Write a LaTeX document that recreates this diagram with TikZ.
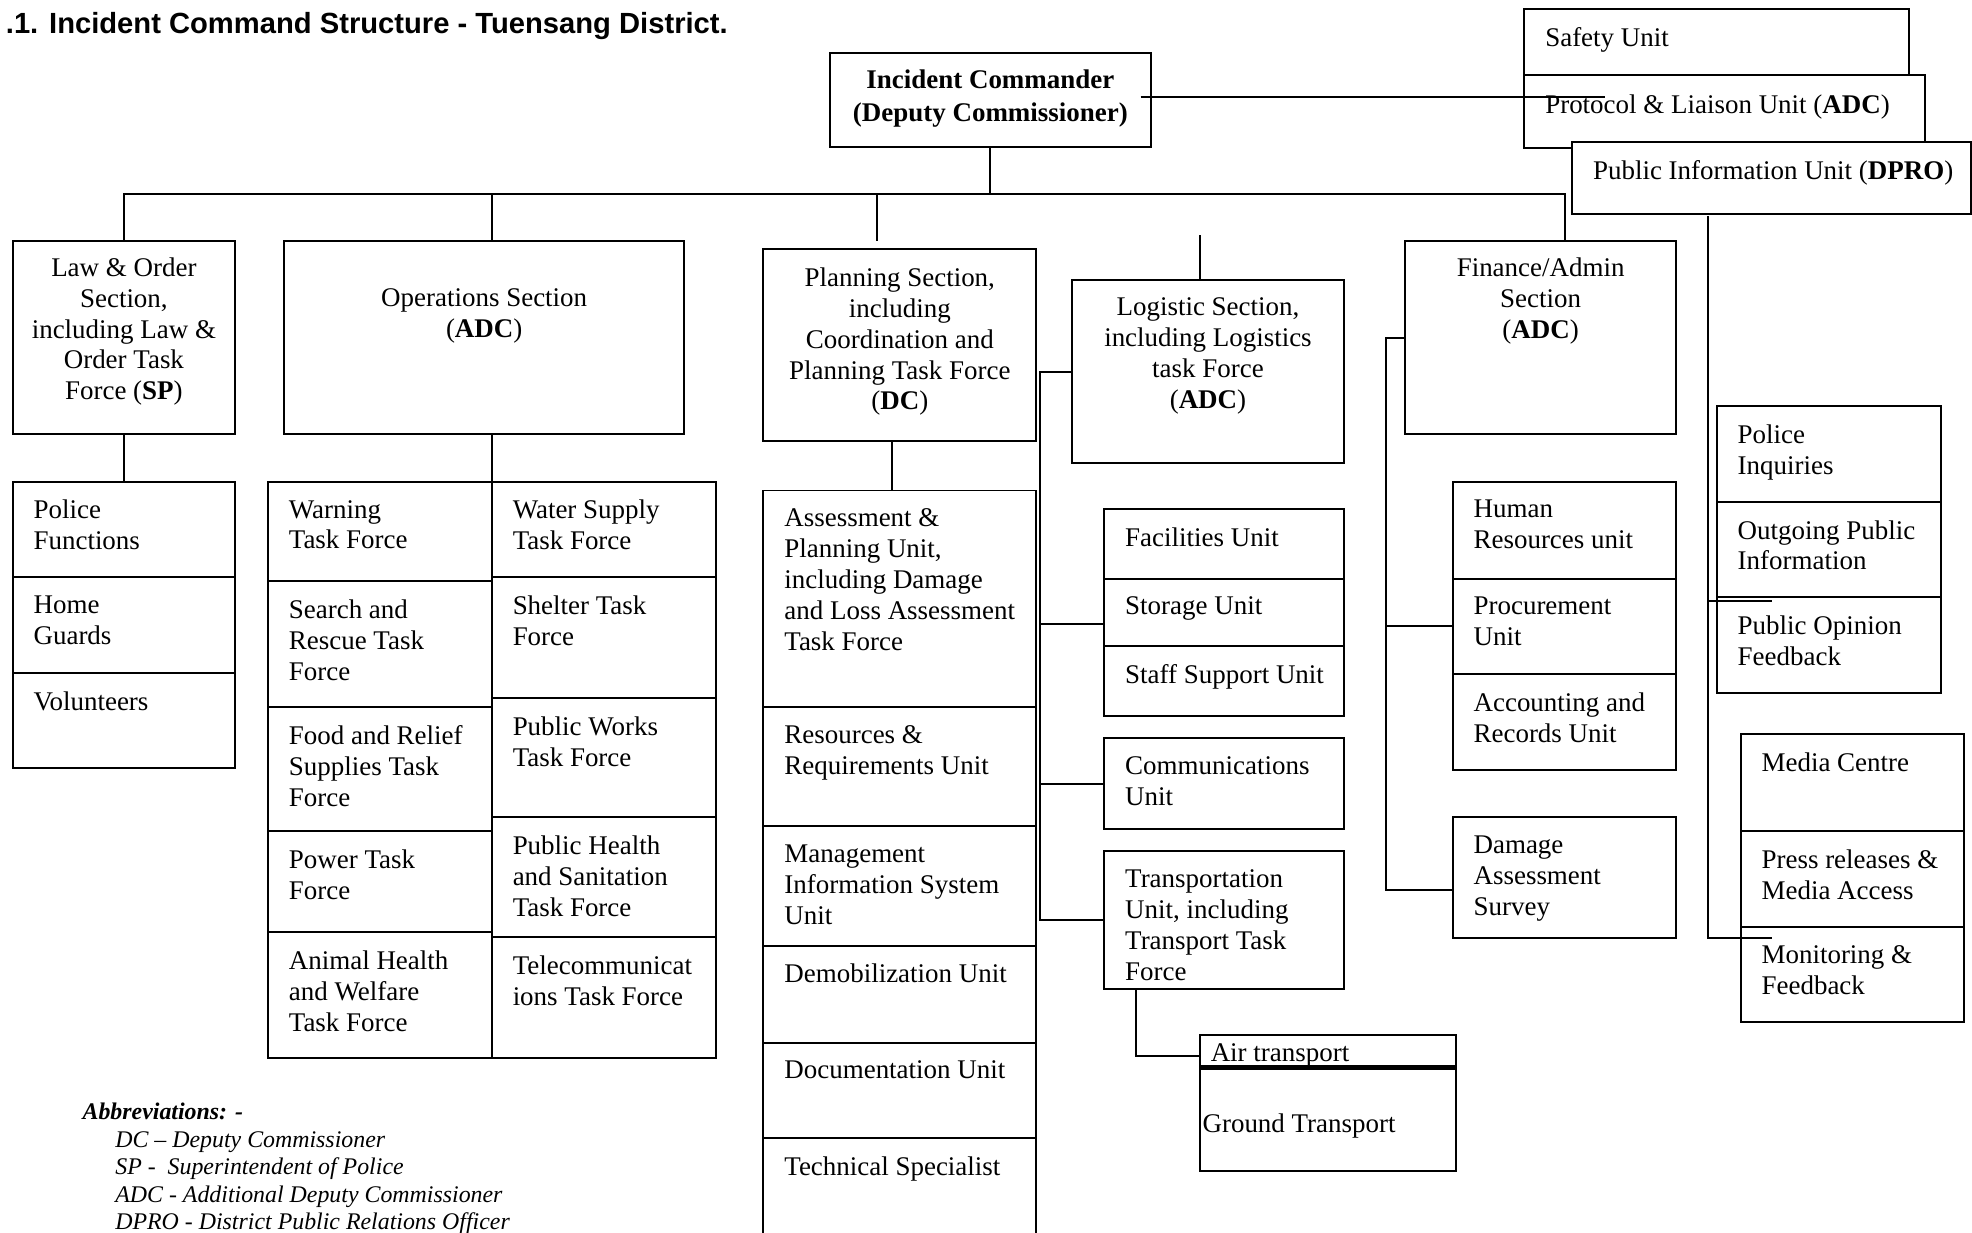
\documentclass[tikz,border=0pt]{standalone}
\usepackage{fontspec}
\setmainfont{Liberation Serif}
\newfontfamily\headfont{Liberation Sans}
\usetikzlibrary{fit}

\tikzset{
  box/.style={draw, fill=white, line width=0.45pt, inner sep=0pt, outer sep=0pt},
  lbl/.style={anchor=north west, inner sep=0pt, align=left, font=\fontsize{6.1}{7}\selectfont},
  clbl/.style={anchor=north, inner sep=0pt, align=center, font=\fontsize{6.1}{7}\selectfont},
  link/.style={line width=0.45pt},
}

% unit box: [text drop] name, corner, corner, text
\newcommand{\ubox}[5][14]{%
  \node[box, fit={#3 #4}] (#2) {};
  \node[lbl] (#2-t) at ([shift={(16,#1)}]#2.north west) {#5};}
% section box: name, corner, corner, text drop, text
\newcommand{\secbox}[5]{%
  \node[box, fit={#2 #3}] (#1) {};
  \node[clbl] (#1-t) at ([shift={(0,#4)}]#1.north) {#5};}

\begin{document}
\begin{tikzpicture}[x=0.1mm, y=-0.1mm]
\useasboundingbox (0,0) rectangle (1568,980);

\node[anchor=base west, inner sep=0pt, font=\headfont\bfseries\fontsize{6.6}{8}\selectfont] (title) at (4,26.5) {.1. Incident Command Structure - Tuensang District.};

% command staff
\secbox{ic}{(660,42)}{(915,117)}{13}{\textbf{Incident Commander}\\[0.4pt]\textbf{(Deputy Commissioner)}}
\ubox[14]{safety}{(1212,7)}{(1518,60)}{Safety Unit}
\ubox[15]{protocol}{(1212,60)}{(1531,118)}{Protocol \& Liaison Unit (\textbf{ADC})}
\ubox[14]{pubinfo}{(1250,113)}{(1567,170)}{Public Information Unit (\textbf{DPRO})}

% sections
\secbox{law}{(10,192)}{(187,345)}{12}{Law \& Order\\Section,\\including Law \&\\Order Task\\Force (\textbf{SP})}
\secbox{ops}{(226,192)}{(544,345)}{37}{Operations Section\\(\textbf{ADC})}
\secbox{plan}{(607,198)}{(824,351)}{14}{Planning Section,\\including\\Coordination and\\Planning Task Force\\(\textbf{DC})}
\secbox{logi}{(852,223)}{(1069,368)}{13}{Logistic Section,\\including Logistics\\task Force\\(\textbf{ADC})}
\secbox{fin}{(1117,192)}{(1333,345)}{12}{Finance/Admin\\Section\\(\textbf{ADC})}

% law and order
\ubox{pf}{(10,383)}{(187,459)}{Police\\Functions}
\ubox{hg}{(10,459)}{(187,535)}{Home\\Guards}
\ubox{vol}{(10,535)}{(187,611)}{Volunteers}

% operations
\ubox{warn}{(213,383)}{(391,462)}{Warning\\Task Force}
\ubox{sar}{(213,462)}{(391,562)}{Search and\\Rescue Task\\Force}
\ubox{food}{(213,562)}{(391,661)}{Food and Relief\\Supplies Task\\Force}
\ubox{power}{(213,661)}{(391,741)}{Power Task\\Force}
\ubox{animal}{(213,741)}{(391,841)}{Animal Health\\and Welfare\\Task Force}
\ubox{water}{(391,383)}{(569,459)}{Water Supply\\Task Force}
\ubox{shelter}{(391,459)}{(569,555)}{Shelter Task\\Force}
\ubox{pworks}{(391,555)}{(569,650)}{Public Works\\Task Force}
\ubox{phealth}{(391,650)}{(569,745)}{Public Health\\and Sanitation\\Task Force}
\ubox{telecom}{(391,745)}{(569,841)}{Telecommunicat\\ions Task Force}

% planning
\ubox[13.5]{assess}{(607,390)}{(824,562)}{Assessment \&\\Planning Unit,\\including Damage\\and Loss Assessment\\Task Force}
\ubox{resreq}{(607,562)}{(824,657)}{Resources \&\\Requirements Unit}
\ubox{mis}{(607,657)}{(824,752)}{Management\\Information System\\Unit}
\ubox{demob}{(607,752)}{(824,829)}{Demobilization Unit}
\ubox{doc}{(607,829)}{(824,905)}{Documentation Unit}
\ubox{tech}{(607,905)}{(824,995)}{Technical Specialist}

% logistics
\ubox{fac}{(878,405)}{(1069,460)}{Facilities Unit}
\ubox{stor}{(878,460)}{(1069,514)}{Storage Unit}
\ubox{staff}{(878,514)}{(1069,569)}{Staff Support Unit}
\ubox{comm}{(878,587)}{(1069,659)}{Communications\\Unit}
\ubox{trans}{(878,677)}{(1069,786)}{Transportation\\Unit, including\\Transport Task\\Force}
\node[box, fit={(954,823) (1158,849)}] (air) {};
\node[lbl] (air-t) at ([shift={(8,6)}]air.north west) {Air transport};
\node[box, fit={(954,849) (1158,931)}] (ground) {};
\node[lbl] (ground-t) at ([shift={(1.5,36)}]ground.north west) {Ground Transport};

% finance
\ubox{hr}{(1155,383)}{(1333,460)}{Human\\Resources unit}
\ubox{proc}{(1155,460)}{(1333,536)}{Procurement\\Unit}
\ubox{acct}{(1155,536)}{(1333,612)}{Accounting and\\Records Unit}
\ubox{dmg}{(1155,650)}{(1333,746)}{Damage\\Assessment\\Survey}

% public information
\ubox{pinq}{(1365,323)}{(1543,399)}{Police\\Inquiries}
\ubox{outg}{(1365,399)}{(1543,475)}{Outgoing Public\\Information}
\ubox{popin}{(1365,475)}{(1543,551)}{Public Opinion\\Feedback}
\ubox{media}{(1384,584)}{(1562,661)}{Media Centre}
\ubox{press}{(1384,661)}{(1562,737)}{Press releases \&\\Media Access}
\ubox{monit}{(1384,737)}{(1562,813)}{Monitoring \&\\Feedback}

% main bus
\coordinate (bus) at (786,154);
\coordinate (buse) at (1244,154);
\coordinate (opsdrop) at (391,154);
\coordinate (plandrop) at (697,154);
\coordinate (planend) at (697,192);
\coordinate (logtop) at (954,187);
\draw[link] (ic.south) -- (ic.south |- bus);
\draw[link] (law.north) |- (buse) -- (buse |- fin.north);
\draw[link] (opsdrop) -- (opsdrop |- ops.north);
\draw[link] (plandrop) -- (planend);
\draw[link] (logtop) -- (logtop |- logi.north);
\coordinate (plend) at (1276,0);
\draw[link] ([shift={(-8,-2.5)}]ic.east) -- ([shift={(0,-2.5)}]ic.east -| plend);

% section to units
\draw[link] (law.south) -- (pf.north);
\draw[link] (ops.south -| warn.north east) -- (warn.north east);
\draw[link] ([shift={(-6,0)}]plan.south) -- ([shift={(-6,0)}]assess.north);

\coordinate (lspine) at (827,0);
\draw[link] (logi.west) -| (lspine |- trans.west) -- (trans.west);
\draw[link] (lspine |- 0,496) -- (stor.west |- 0,496);
\draw[link] (lspine |- comm.west) -- (comm.west);
\draw[link] ([shift={(25,0)}]trans.south west) |- ([shift={(0,4)}]air.west);
\draw[line width=1.1pt] (air.south west) -- (air.south east);

\coordinate (fspine) at (1102,0);
\draw[link] (fin.west) -| (fspine |- 0,708) -- (dmg.west |- 0,708);
\draw[link] (fspine |- proc.west) -- (proc.west);

\coordinate (pspine) at (1358,0);
\draw[link] (pspine |- 0,172) -- (pspine |- 0,746) -- ++(51,0);
\draw[link] (pspine |- 0,478) -- ++(51,0);

% abbreviations
\node[anchor=north west, inner sep=0pt, align=left, font=\itshape\fontsize{5.4}{6.2}\selectfont] (abbr) at (65,876.5)
  {\textbf{Abbreviations: -}\\
   \hspace*{2.6mm}DC -- Deputy Commissioner\\
   \hspace*{2.6mm}SP -~~Superintendent of Police\\
   \hspace*{2.6mm}ADC - Additional Deputy Commissioner\\
   \hspace*{2.6mm}DPRO - District Public Relations Officer};
\end{tikzpicture}
\end{document}
